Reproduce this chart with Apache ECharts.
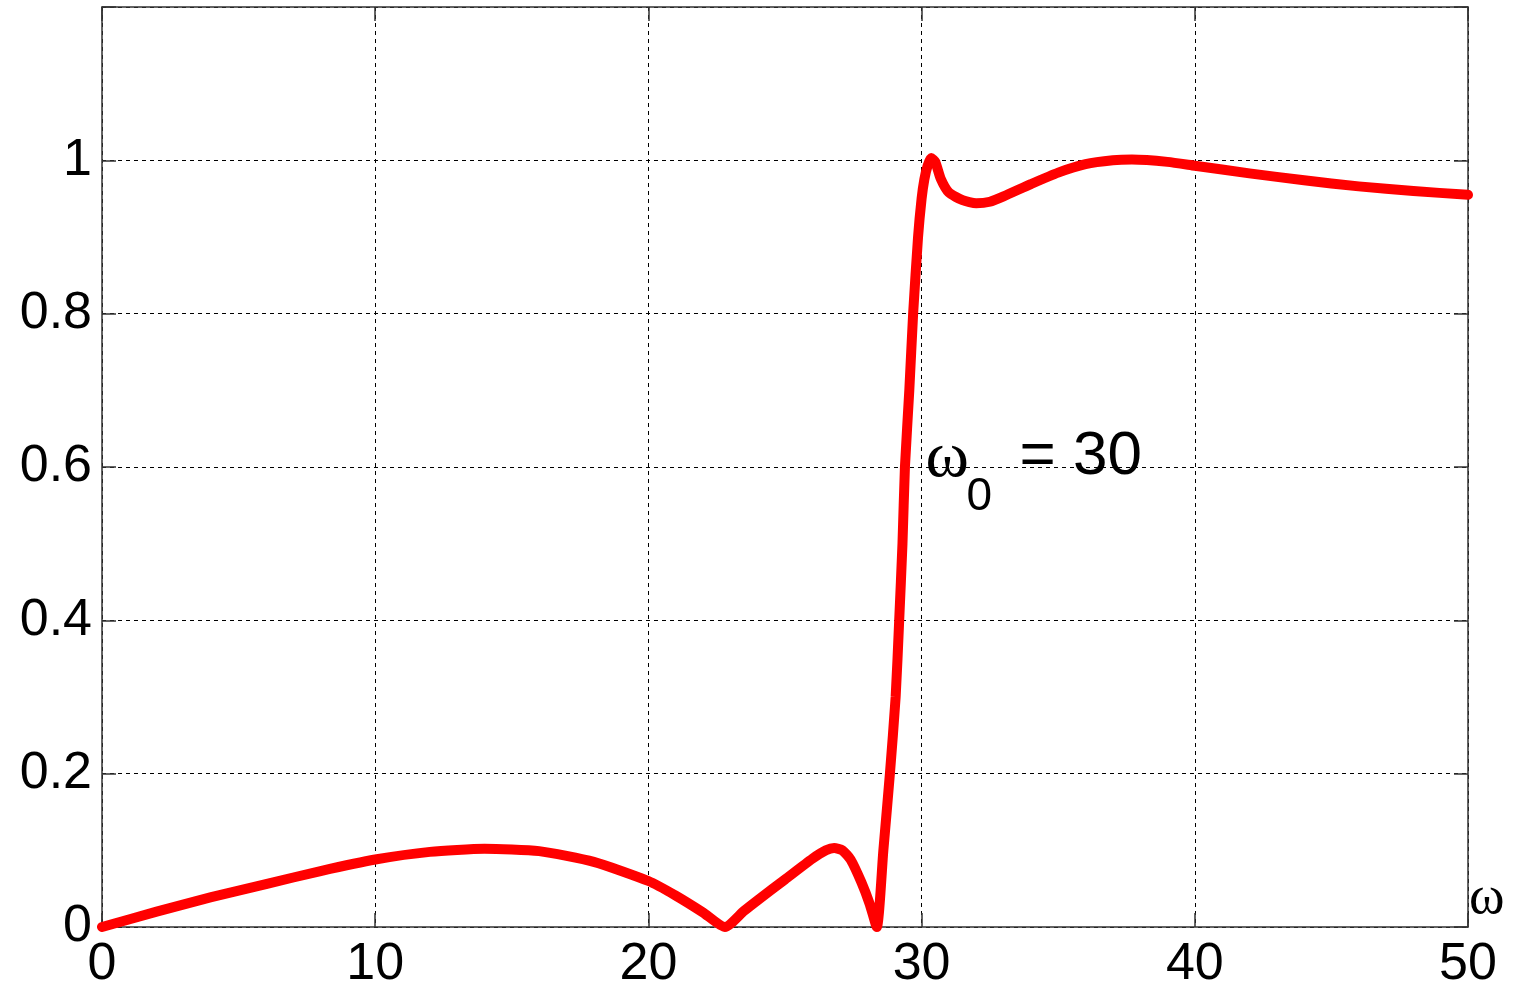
<!DOCTYPE html>
<html>
<head>
<meta charset="utf-8">
<script src="https://cdn.jsdelivr.net/npm/echarts@6/dist/echarts.min.js"></script>
<style>html,body{margin:0;padding:0;background:#fff;}#c{width:1515px;height:994px;}</style>
</head>
<body>
<div id="c"></div>
<script>
// Frequency values (omega) and response magnitude
const omega = [0, 2, 4, 6, 8, 10, 12, 14, 16, 18, 20, 21, 22, 22.8,
  23.5, 24, 25, 26, 26.5, 26.8, 27.1, 27.4, 27.8, 28.1, 28.36,
  28.6, 28.84, 29.05, 29.18, 29.3, 29.39, 29.55, 29.69, 29.87, 30.0, 30.1, 30.22, 30.35,
  30.5, 30.7, 31.0, 31.5, 32.0, 32.5, 33, 34, 35, 36, 37, 37.7, 39, 40, 42, 44, 46, 48, 50];
const magnitude = [0, 0.02, 0.039, 0.056, 0.073, 0.088, 0.098, 0.102, 0.099, 0.085, 0.06, 0.041, 0.019, 0,
  0.021, 0.035, 0.062, 0.089, 0.1, 0.103, 0.1, 0.088, 0.058, 0.03, 0,
  0.1, 0.2, 0.3, 0.4, 0.5, 0.6, 0.7, 0.8, 0.9, 0.95, 0.975, 0.993, 1.003,
  0.998, 0.976, 0.958, 0.948, 0.944, 0.946, 0.953, 0.969, 0.984, 0.995, 1.0, 1.001, 0.998, 0.993, 0.983, 0.974, 0.966, 0.96, 0.955];
const xTicks = [0, 10, 20, 30, 40, 50];
const yTicks = [0, 0.2, 0.4, 0.6, 0.8, 1, 1.2];
const annotationMain = 'ω';
const annotationSub = '0';
const annotationRest = '= 30';
const annotationAnchor = [30, 0.6];
const xAxisName = 'ω';

const seriesData = omega.map((w, i) => [w, magnitude[i]]);
const SANS = "'Liberation Sans', Arial, Helvetica, sans-serif";
const SERIF = "'Liberation Serif', 'Times New Roman', serif";

const chart = echarts.init(document.getElementById('c'), null, {renderer: 'canvas'});
const axisLine = {show: true, onZero: false, lineStyle: {color: '#333', width: 1.5}};
const tickIn = {show: true, inside: true, length: 14, lineStyle: {color: '#333', width: 1.5}};
const gridDash = {show: true, lineStyle: {color: '#000', width: 1, type: [4, 4]}};

chart.setOption({
  animation: false,
  backgroundColor: '#fff',
  grid: {left: 102, right: 47, top: 7, bottom: 67, containLabel: false},
  xAxis: [{
    type: 'value', position: 'bottom', min: xTicks[0], max: xTicks[xTicks.length - 1], interval: 10,
    axisLine: axisLine, axisTick: tickIn, splitLine: gridDash,
    axisLabel: {color: '#000', fontFamily: SANS, fontSize: 52, margin: 12,
      formatter: v => xTicks.includes(v) ? String(v) : ''}
  }, {
    type: 'value', position: 'top', min: xTicks[0], max: xTicks[xTicks.length - 1], interval: 10,
    axisLine: axisLine, axisTick: tickIn, splitLine: {show: false}, axisLabel: {show: false}
  }],
  yAxis: [{
    type: 'value', position: 'left', min: yTicks[0], max: yTicks[yTicks.length - 1], interval: 0.2,
    axisLine: axisLine, axisTick: tickIn, splitLine: gridDash,
    axisLabel: {color: '#000', fontFamily: SANS, fontSize: 52, margin: 10,
      formatter: v => (Math.abs(v - 1.2) < 1e-6) ? '' : String(+v.toFixed(1))}
  }, {
    type: 'value', position: 'right', min: yTicks[0], max: yTicks[yTicks.length - 1], interval: 0.2,
    axisLine: axisLine, axisTick: tickIn, splitLine: {show: false}, axisLabel: {show: false}
  }],
  series: [{
    type: 'line', xAxisIndex: 0, yAxisIndex: 0, data: seriesData,
    showSymbol: false, smooth: 0.2, clip: true,
    lineStyle: {color: '#ff0000', width: 10, join: 'round', cap: 'round'},
    z: 5
  }]
});

const a = chart.convertToPixel({xAxisIndex: 0, yAxisIndex: 0}, annotationAnchor);
const e = chart.convertToPixel({xAxisIndex: 0, yAxisIndex: 0}, [xTicks[xTicks.length - 1], 0]);
chart.setOption({
  graphic: [
    {type: 'text', x: a[0] + 4, y: a[1] - 8, z: 10,
      style: {text: annotationMain, font: '66px ' + SERIF, fill: '#000', textAlign: 'left', textVerticalAlign: 'middle'}},
    {type: 'text', x: a[0] + 45, y: a[1] + 30, z: 10,
      style: {text: annotationSub, font: '46px ' + SANS, fill: '#000', textAlign: 'left', textVerticalAlign: 'middle'}},
    {type: 'text', x: a[0] + 98, y: a[1] - 10, z: 10,
      style: {text: annotationRest, font: '62px ' + SANS, fill: '#000', textAlign: 'left', textVerticalAlign: 'middle'}},
    {type: 'text', x: e[0] + 1, y: e[1] - 28, z: 10,
      style: {text: xAxisName, font: '54px ' + SERIF, fill: '#000', textAlign: 'left', textVerticalAlign: 'middle'}}
  ]
});
</script>
</body>
</html>
